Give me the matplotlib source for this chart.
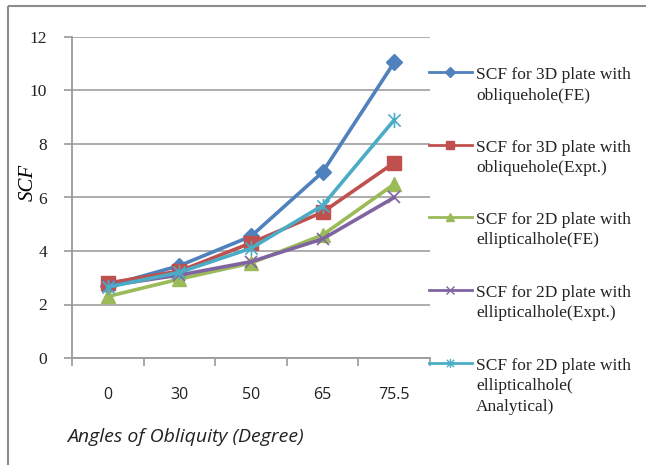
import matplotlib
matplotlib.use("Agg")
import matplotlib.pyplot as plt
from matplotlib.lines import Line2D
from matplotlib.path import Path

# Data
angles = ["0", "30", "50", "65", "75.5"]
scf_3d_fe = [2.7, 3.45, 4.55, 6.95, 11.05]
scf_3d_expt = [2.8, 3.25, 4.3, 5.45, 7.3]
scf_2d_fe = [2.3, 2.95, 3.55, 4.6, 6.5]
scf_2d_expt = [2.7, 3.1, 3.6, 4.45, 6.0]
scf_2d_analytical = [2.65, 3.2, 4.1, 5.7, 8.9]

labels = [
    ["SCF for 3D plate with", "obliquehole(FE)"],
    ["SCF for 3D plate with", "obliquehole(Expt.)"],
    ["SCF for 2D plate with", "ellipticalhole(FE)"],
    ["SCF for 2D plate with", "ellipticalhole(Expt.)"],
    ["SCF for 2D plate with", "ellipticalhole(", "Analytical)"],
]

# Asterisk marker: vertical bar plus an X
star = Path(
    [(0, -1), (0, 1), (-0.8, -0.8), (0.8, 0.8), (-0.8, 0.8), (0.8, -0.8)],
    [Path.MOVETO, Path.LINETO, Path.MOVETO, Path.LINETO, Path.MOVETO, Path.LINETO],
)

series = [
    (scf_3d_fe, "#4F81BD", "D", 8),
    (scf_3d_expt, "#C0504D", "s", 10),
    (scf_2d_fe, "#9BBB59", "^", 10),
    (scf_2d_expt, "#8064A2", "x", 9),
    (scf_2d_analytical, "#4BACC6", star, 11),
]

W, H = 646, 465
fig = plt.figure(figsize=(W / 100, H / 100), dpi=100)
fig.patch.set_facecolor("white")


def fx(px):
    return px / W


def fy(py):
    return 1 - py / H


ax = fig.add_axes([fx(72), fy(358), fx(430) - fx(72), fy(37) - fy(358)])
ax.set_facecolor("white")

xs = list(range(len(angles)))
for vals, color, marker, ms in series:
    ax.plot(xs, vals, color=color, lw=2.6, marker=marker, ms=ms,
            mec=color, mfc=color, mew=1.2 if marker == "x" or marker is star else 1.0,
            zorder=3)

ax.set_xlim(-0.5, len(angles) - 0.5)
ax.set_ylim(0, 12)
ax.set_yticks(range(0, 13, 2))
ax.yaxis.grid(True, color="#A6A6A6", lw=1.3)
ax.set_axisbelow(True)

grey = "#9A9A9A"
for side in ("top", "right"):
    ax.spines[side].set_visible(False)
for side in ("left", "bottom"):
    ax.spines[side].set_color(grey)
    ax.spines[side].set_linewidth(1.3)

ax.set_xticks(xs)
ax.set_xticklabels(angles, fontfamily="Open Sans", fontsize=11.5, color="#222222")
ax.tick_params(axis="x", which="major", length=0, pad=21)
ax.set_xticks([i - 0.5 for i in range(len(angles) + 1)], minor=True)
ax.tick_params(axis="x", which="minor", length=6, width=1.2, color=grey, direction="out")

ax.tick_params(axis="y", length=6, width=1.2, color=grey, direction="out", pad=12)
for t in ax.get_yticklabels():
    t.set_fontfamily("Liberation Serif")
    t.set_fontsize(12.5)
    t.set_color("#222222")

# Axis titles
fig.text(fx(28), fy(182), "SCF", rotation=90, ha="center", va="center",
         fontfamily="Liberation Serif", fontstyle="italic", fontsize=15)
fig.text(fx(67), fy(437), "Angles of Obliquity (Degree)", ha="left", va="center",
         fontfamily="Open Sans", fontstyle="italic", fontsize=14, color="#222222")

# Legend drawn entry by entry
handle_y = [72.5, 145, 217, 290, 363]
for (vals, color, marker, ms), lines, hy in zip(series, labels, handle_y):
    fig.add_artist(Line2D([fx(429), fx(472)], [fy(hy), fy(hy)], transform=fig.transFigure,
                          color=color, lw=2, marker=None))
    fig.add_artist(Line2D([fx(450.5)], [fy(hy)], transform=fig.transFigure,
                          color=color, marker=marker, ms=ms * 0.6, mfc=color, mec=color,
                          lw=0, mew=1.0))
    for i, line in enumerate(lines):
        fig.text(fx(476), fy(hy + 6.5 + 20.5 * i), line, ha="left", va="baseline",
                 fontfamily="Liberation Serif", fontsize=12.5, color="#222222")

# Outer chart frame (left and top edges)
frame_col = "#8C8C8C"
fig.add_artist(Line2D([fx(8.3), fx(8.3)], [fy(6.5), -0.02], transform=fig.transFigure,
                      color=frame_col, lw=1.5, solid_capstyle="butt"))
fig.add_artist(Line2D([fx(8.3), 1.02], [fy(6.5), fy(6.5)], transform=fig.transFigure,
                      color=frame_col, lw=1.5, solid_capstyle="butt"))

fig.savefig("out.png", dpi=100)
